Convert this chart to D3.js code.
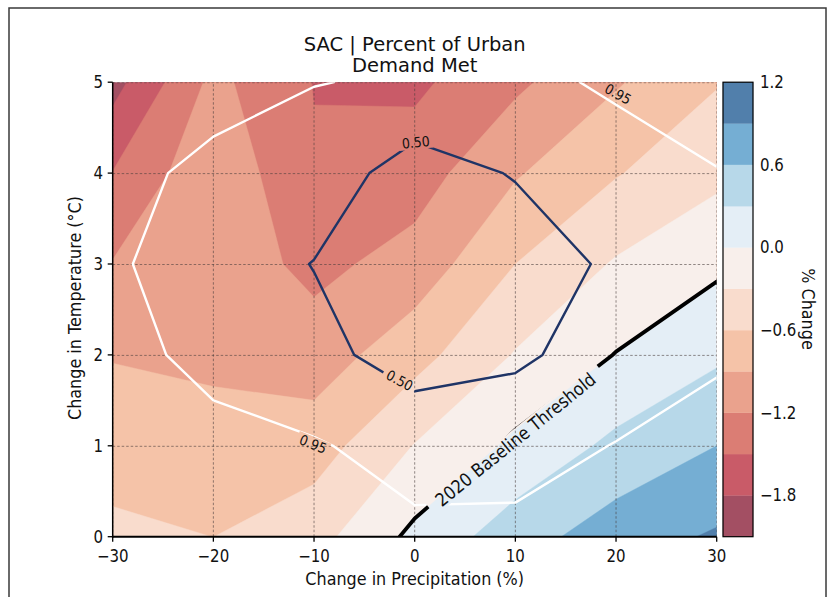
<!DOCTYPE html>
<html>
<head>
<meta charset="utf-8">
<script src="https://cdn.jsdelivr.net/npm/d3@7"></script>
<style>
  body { margin: 0; background: #fff; }
  text { font-family: "DejaVu Sans", sans-serif; fill: #111; }
</style>
</head>
<body>
<svg id="chart" width="829" height="597"></svg>
<script>
// grid of the model runs
const precip = [-30, -20, -10, 0, 10, 20, 30];
const temps = [0, 1, 2, 3, 4, 5];

// % change of urban demand met, one row per temperature (0 -> 5)
const pctChange = [
   [-0.55, -0.601, -0.408, 0.072, 0.465, 0.76, 0.935],
   [-0.70, -0.75, -0.74, -0.288, 0.06, 0.372, 0.60],
   [-0.92, -0.98, -1.06, -0.71, -0.28, 0.01, 0.25],
   [-1.185, -1.02, -1.28, -1.085, -0.60, -0.27, -0.06],
   [-1.49, -0.97, -1.47, -1.34, -0.93, -0.62, -0.37],
   [-1.91, -1.12, -1.51, -1.56, -1.26, -0.93, -0.62]
];

// reliability surface used for the 0.50 / 0.95 contour lines
const reliability = [
   [1.05, 1.05, 1.05, 1.03, 1.04, 1.05, 1.10],
   [1.05, 0.994, 0.985, 0.80, 0.80, 0.963, 1.10],
   [1.00, 0.906, 0.633, 0.30, 0.425, 0.703, 0.90],
   [1.00, 0.75, 0.487, 0.20, 0.23, 0.59, 0.92],
   [1.00, 0.909, 0.76, 0.287, 0.53, 0.85, 0.94],
   [1.05, 1.011, 0.96, 0.91, 0.891, 0.983, 1.08]
];

const levels = [-2.1, -1.8, -1.5, -1.2, -0.9, -0.6, -0.3, 0.0, 0.3, 0.6, 0.9, 1.2];
const bandColors = [
   '#a34f63', '#c95b68', '#db7d74', '#eaa28d', '#f5c3a8', '#f9dccd',
   '#f8efeb', '#e4eef6', '#b7d8e9', '#75aed3', '#517fab'
];
const xTicks = [-30, -20, -10, 0, 10, 20, 30];
const yTicks = [0, 1, 2, 3, 4, 5];
const cbTicks = ['\u22121.8', '\u22121.2', '\u22120.6', '0.0', '0.6', '1.2'];

const lineSets = [
   { field: reliability, level: 0.50, color: '#1f3466', width: 2.4 },
   { field: reliability, level: 0.95, color: '#ffffff', width: 2.4 },
   { field: pctChange, level: 0.0, color: '#000000', width: 3.8 }
];

const labels = [
   { text: '0.50', x: 0.1, y: 4.34, angle: -6, size: 12.5, w: 34, h: 14 },
   { text: '0.50', x: -1.5, y: 1.72, angle: 28, size: 12.5, w: 36, h: 14 },
   { text: '0.95', x: -10.1, y: 1.02, angle: 22, size: 12.5, w: 34, h: 14 },
   { text: '0.95', x: 20.2, y: 4.87, angle: 29, size: 12.5, w: 36, h: 14 },
   { text: '2020 Baseline Threshold', x: 10.0, y: 1.07, angle: -39, size: 16.2, w: 220, h: 18 }
];

const svg = d3.select('#chart');

// glyphs in the picture are a little taller than wide
function addText(px, py, str, size, anchor, angle, stretch) {
   const s = stretch === undefined ? 1.13 : stretch;
   return svg.append('text')
      .attr('transform', 'translate(' + px + ',' + py + ') rotate(' + (angle || 0) + ') scale(1,' + s + ')')
      .attr('text-anchor', anchor || 'start')
      .style('font-size', size + 'px')
      .text(str);
}

// outer frame
svg.append('rect')
   .attr('x', 9).attr('y', 8).attr('width', 817).attr('height', 620)
   .attr('fill', 'none').attr('stroke', '#3a3a3a').attr('stroke-width', 1.5);

const x = d3.scaleLinear().domain([-30, 30]).range([112.7, 716.7]);
const y = d3.scaleLinear().domain([0, 5]).range([536.7, 82.2]);

const nx = precip.length, ny = temps.length;
const dxStep = precip[1] - precip[0], dyStep = temps[1] - temps[0];

// d3.contours puts sample i at i + 0.5
const proj = d3.geoTransform({
   point: function (px, py) {
      this.stream.point(x(precip[0] + (px - 0.5) * dxStep), y(temps[0] + (py - 0.5) * dyStep));
   }
});
const path = d3.geoPath(proj);
const contours = d3.contours().size([nx, ny]);

const defs = svg.append('defs');
defs.append('clipPath').attr('id', 'plotclip')
   .append('rect')
   .attr('x', x(-30)).attr('y', y(5))
   .attr('width', x(30) - x(-30)).attr('height', y(0) - y(5));

// label gaps in the lines
const mask = defs.append('mask').attr('id', 'labelgap')
   .attr('maskUnits', 'userSpaceOnUse')
   .attr('x', 0).attr('y', 0).attr('width', 829).attr('height', 597);
mask.append('rect').attr('width', 829).attr('height', 597).attr('fill', '#fff');
labels.forEach(function (l) {
   mask.append('rect')
      .attr('x', -l.w / 2).attr('y', -l.h / 2)
      .attr('width', l.w).attr('height', l.h)
      .attr('fill', '#000')
      .attr('transform', 'translate(' + x(l.x) + ',' + y(l.y) + ') rotate(' + l.angle + ')');
});

const plot = svg.append('g').attr('clip-path', 'url(#plotclip)');

// filled bands
const flatF = pctChange.flat();
plot.append('g').selectAll('path')
   .data(levels.slice(0, -1).map(function (lv, i) {
      return { geo: contours.contour(flatF, lv), color: bandColors[i] };
   }))
   .enter().append('path')
   .attr('d', d => path(d.geo))
   .attr('fill', d => d.color)
   .attr('stroke', d => d.color)
   .attr('stroke-width', 0.4);

// dashed grid
const grid = plot.append('g')
   .attr('stroke', '#4a3e3c').attr('stroke-opacity', 0.75)
   .attr('stroke-width', 0.8).attr('stroke-dasharray', '2.5,2');
xTicks.forEach(function (t) {
   grid.append('line').attr('x1', x(t)).attr('x2', x(t)).attr('y1', y(0)).attr('y2', y(5));
});
yTicks.forEach(function (t) {
   grid.append('line').attr('x1', x(-30)).attr('x2', x(30)).attr('y1', y(t) + 0.5).attr('y2', y(t) + 0.5);
});

// contour lines
const lines = plot.append('g').attr('mask', 'url(#labelgap)');
lineSets.forEach(function (s) {
   lines.append('path')
      .attr('d', path(contours.contour(s.field.flat(), s.level)))
      .attr('fill', 'none')
      .attr('stroke', s.color)
      .attr('stroke-width', s.width)
      .attr('stroke-linejoin', 'round');
});

// inline labels
labels.forEach(function (l) {
   addText(x(l.x), y(l.y), l.text, l.size, 'middle', l.angle).attr('dy', '0.36em');
});

// spines
svg.append('line').attr('x1', x(-30)).attr('x2', x(-30)).attr('y1', y(0) + 1).attr('y2', y(5))
   .attr('stroke', '#000').attr('stroke-width', 1.5);
svg.append('line').attr('x1', x(-30) - 0.75).attr('x2', x(30)).attr('y1', y(0)).attr('y2', y(0))
   .attr('stroke', '#000').attr('stroke-width', 2);

// ticks
xTicks.forEach(function (t) {
   svg.append('line').attr('x1', x(t)).attr('x2', x(t)).attr('y1', y(0)).attr('y2', y(0) + 5)
      .attr('stroke', '#000').attr('stroke-width', 1.3);
   addText(x(t), 562, (t < 0 ? '\u2212' : '') + Math.abs(t), 15, 'middle');
});
yTicks.forEach(function (t) {
   svg.append('line').attr('x1', x(-30) - 5).attr('x2', x(-30)).attr('y1', y(t)).attr('y2', y(t))
      .attr('stroke', '#000').attr('stroke-width', 1.3);
   addText(103, y(t) + 6, String(t), 15, 'end');
});

// axis labels and title
addText(414.7, 585, 'Change in Precipitation (%)', 16, 'middle');
addText(81, 308, 'Change in Temperature (\u00b0C)', 16, 'middle', -90);
addText(414.7, 50.7, 'SAC | Percent of Urban', 19.5, 'middle', 0, 1.0);
addText(414.7, 71.7, 'Demand Met', 19.5, 'middle', 0, 1.0);

// colorbar
const cb = d3.scaleLinear().domain([levels[0], levels[levels.length - 1]]).range([536.7, 82.2]);
const cbx = 723, cbw = 30;
svg.append('g').selectAll('rect')
   .data(bandColors)
   .enter().append('rect')
   .attr('x', cbx)
   .attr('y', (d, i) => cb(levels[i + 1]))
   .attr('width', cbw)
   .attr('height', (d, i) => cb(levels[i]) - cb(levels[i + 1]))
   .attr('fill', d => d)
   .attr('stroke', d => d).attr('stroke-width', 0.3);
svg.append('rect').attr('x', cbx).attr('y', cb(1.2)).attr('width', cbw)
   .attr('height', cb(-2.1) - cb(1.2))
   .attr('fill', 'none').attr('stroke', '#000').attr('stroke-width', 1.2);
cbTicks.forEach(function (t) {
   addText(760, cb(+t.replace('\u2212', '-')) + 6, t, 15, 'start');
});
addText(802, 309, '% Change', 16, 'middle', 90);
</script>
</body>
</html>
